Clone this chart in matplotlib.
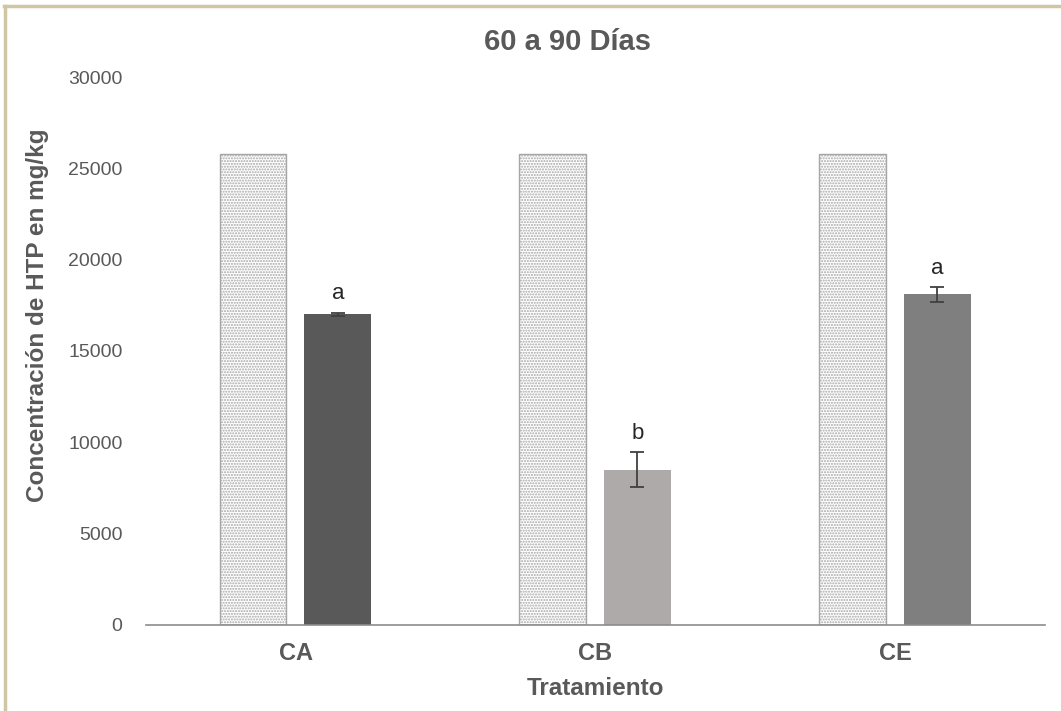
import numpy as np
import matplotlib.pyplot as plt
import matplotlib as mpl

# values
tratamientos = ["CA", "CB", "CE"]
inicial = [25800, 25800, 25800]
final = [17000, 8500, 18100]
error = [100, 950, 400]
letras = ["a", "b", "a"]
colores = ["#595959", "#aeaaaa", "#7f7f7f"]

mpl.rcParams['font.family'] = ['Liberation Sans', 'DejaVu Sans']
mpl.rcParams['hatch.color'] = '#6e6e6e'
mpl.rcParams['hatch.linewidth'] = 1.0

fig = plt.figure(figsize=(10.61, 7.11), dpi=100)
ax = fig.add_axes([0.1376, 0.121, 0.8474, 0.7707])

x = np.arange(len(tratamientos))
w = 0.223
ax.bar(x - 0.143, inicial, w, color="white", edgecolor="#a6a6a6",
       hatch="......", linewidth=1.0)
ax.bar(x + 0.14, final, w, color=colores, yerr=error, capsize=5,
       error_kw=dict(ecolor="#404040", elinewidth=1.3, capthick=1.3))

for i in range(len(tratamientos)):
    ax.text(x[i] + 0.14, final[i] + error[i] + 450, letras[i],
            ha="center", va="bottom", fontsize=16, color="#262626")

ax.set_xlim(-0.5, 2.5)
ax.set_ylim(0, 30000)
ax.set_yticks(range(0, 30001, 5000))
ax.set_xticks(x)
ax.set_xticklabels(tratamientos, fontweight="bold")

for s in ["top", "right", "left"]:
    ax.spines[s].set_visible(False)
ax.spines["bottom"].set_color("#8c8c8c")
ax.spines["bottom"].set_linewidth(1.2)
ax.tick_params(axis="y", length=0, pad=17, labelsize=14, labelcolor="#595959")
ax.tick_params(axis="x", length=0, pad=12, labelsize=17, labelcolor="#595959")

fig.text(0.535, 0.941, "60 a 90 Días", fontsize=21, fontweight="bold",
         color="#595959", ha="center", va="center")
fig.text(0.561, 0.032, "Tratamiento", fontsize=17.5, fontweight="bold",
         color="#595959", ha="center", va="center")
fig.text(0.035, 0.557, "Concentración de HTP en mg/kg", fontsize=17.5,
         fontweight="bold", color="#595959", ha="center", va="center", rotation=90)

# outer chart border (top and left visible)
fig.add_artist(plt.Line2D([0.004, 1.0], [0.991, 0.991], color="#cfc7a4", lw=2.5,
                          transform=fig.transFigure))
fig.add_artist(plt.Line2D([0.005, 0.005], [0.0, 0.991], color="#cfc7a4", lw=2.5,
                          transform=fig.transFigure))

fig.savefig("out.png", dpi=100)
